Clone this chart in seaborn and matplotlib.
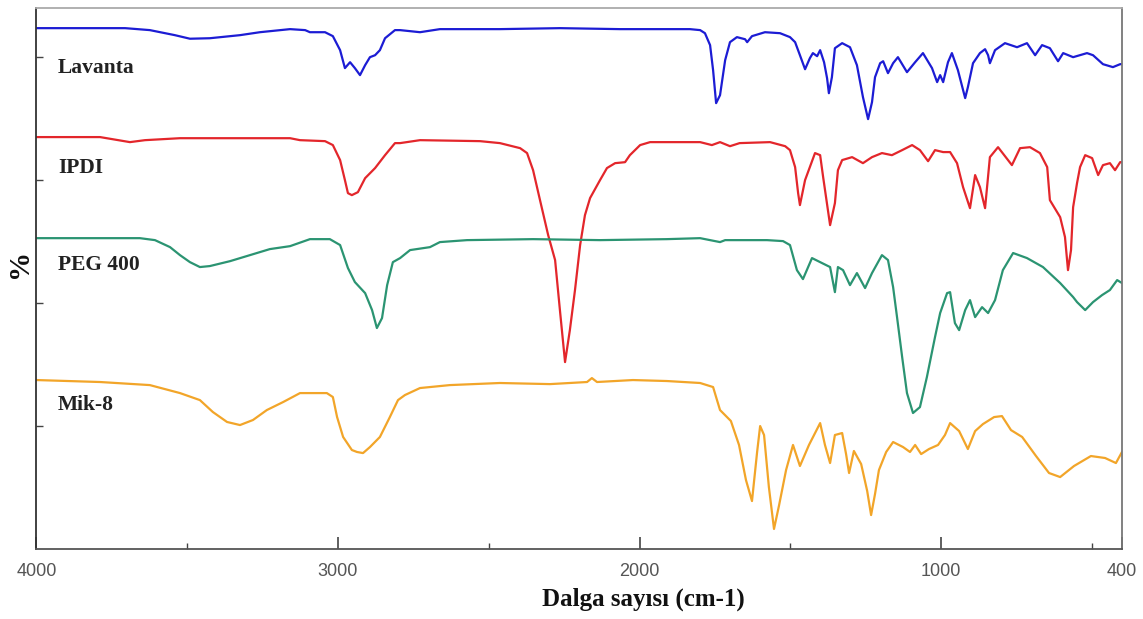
"""
FTIR spektrumları: Lavanta, IPDI, PEG 400 ve Mik-8.
Eğriler üst üste kaydırılmış halde, y ekseni keyfi birim (%).
"""

import numpy as np
import pandas as pd
import matplotlib.pyplot as plt
import seaborn as sns

# Dalga sayısı (cm-1) ve kaydırılmış geçirgenlik değerleri
lavanta_x = [4000, 3706, 3624, 3541, 3491, 3425, 3325, 3259, 3159, 3109, 3093, 3043,
             3017, 2993, 2977, 2960, 2944, 2927, 2910, 2894, 2877, 2861, 2844, 2811,
             2794, 2728, 2662, 2463, 2264, 2065, 1833, 1799, 1783, 1766, 1756, 1746,
             1733, 1716, 1700, 1677, 1650, 1643, 1627, 1584, 1534, 1501, 1484, 1468,
             1451, 1435, 1425, 1411, 1401, 1388, 1378, 1372, 1362, 1352, 1328, 1302,
             1279, 1259, 1242, 1229, 1219, 1202, 1192, 1176, 1159, 1143, 1113, 1086,
             1060, 1030, 1013, 1003, 993, 977, 964, 944, 920, 911, 894, 871, 854, 844,
             838, 821, 788, 748, 715, 688, 665, 639, 612, 595, 562, 516, 496, 463, 430,
             406, 400]
lavanta_y = [423.6, 423.6, 422.0, 417.9, 415.0, 415.4, 417.9, 420.3, 422.8, 422.0, 420.3, 420.3,
             417.1, 405.7, 391.1, 395.9, 391.1, 385.4, 393.5, 400.0, 401.6, 405.7, 415.4, 422.0,
             422.0, 420.3, 422.8, 422.8, 423.6, 422.8, 422.8, 422.0, 419.5, 409.8, 389.4, 362.6,
             369.1, 397.6, 412.2, 416.3, 414.6, 412.2, 417.1, 420.3, 419.5, 416.3, 412.2, 401.6,
             390.2, 399.2, 403.3, 400.8, 405.7, 395.9, 382.9, 370.7, 383.7, 407.3, 411.4, 408.1,
             393.5, 367.5, 349.6, 363.4, 383.7, 395.1, 396.7, 387.0, 395.1, 400.0, 387.8, 395.9,
             403.3, 391.1, 379.7, 385.4, 379.7, 395.9, 403.3, 389.4, 366.7, 375.6, 395.1, 403.3,
             406.5, 401.6, 395.1, 405.7, 411.4, 408.1, 411.4, 401.6, 409.8, 407.3, 396.7, 403.3,
             400.0, 403.3, 401.6, 394.3, 391.9, 394.3, 394.3]

ipdi_x = [4000, 3789, 3690, 3640, 3524, 3159, 3126, 3043, 3017, 2993, 2977, 2967, 2954,
          2934, 2910, 2877, 2844, 2811, 2794, 2728, 2529, 2463, 2396, 2373, 2353, 2330,
          2303, 2280, 2264, 2247, 2231, 2214, 2197, 2181, 2164, 2131, 2108, 2081, 2048,
          2032, 1998, 1965, 1799, 1760, 1733, 1700, 1668, 1567, 1517, 1501, 1484, 1474,
          1468, 1451, 1418, 1401, 1391, 1368, 1352, 1342, 1328, 1295, 1259, 1229, 1196,
          1163, 1129, 1096, 1070, 1043, 1020, 993, 970, 947, 927, 904, 887, 871, 854, 838,
          811, 765, 738, 705, 672, 648, 639, 605, 589, 579, 569, 562, 549, 539, 522, 499,
          479, 463, 440, 423, 406, 400]
ipdi_y = [335.0, 335.0, 330.9, 332.5, 334.1, 334.1, 332.5, 331.7, 328.5, 316.3, 300.0, 289.4, 287.8,
          290.2, 301.6, 309.8, 320.3, 330.1, 330.1, 332.5, 331.7, 330.1, 326.0, 322.0, 308.1, 283.7,
          255.3, 235.0, 194.3, 152.0, 178.0, 210.6, 247.2, 271.5, 285.4, 300.0, 309.8, 313.8, 314.6,
          320.3, 328.5, 330.9, 330.9, 328.5, 330.9, 327.6, 330.1, 330.9, 327.6, 324.4, 310.6, 289.4,
          279.7, 300.0, 322.0, 320.3, 302.4, 263.4, 281.3, 308.1, 316.3, 318.7, 313.8, 318.7, 322.0,
          320.3, 324.4, 328.5, 324.4, 315.4, 324.4, 322.8, 322.8, 313.8, 294.3, 277.2, 304.1, 294.3,
          277.2, 318.7, 326.8, 312.2, 326.0, 326.8, 322.0, 310.6, 283.7, 269.9, 253.7, 226.8, 243.1,
          278.0, 297.6, 310.6, 320.3, 317.9, 304.1, 312.2, 313.8, 308.1, 314.6, 314.6]

peg_x = [4000, 3657, 3607, 3557, 3524, 3491, 3458, 3425, 3358, 3292, 3226, 3159, 3093,
         3027, 2993, 2967, 2944, 2910, 2887, 2871, 2854, 2837, 2818, 2794, 2761, 2695,
         2662, 2572, 2353, 2131, 1909, 1799, 1733, 1716, 1577, 1524, 1501, 1478, 1458,
         1428, 1401, 1368, 1352, 1342, 1325, 1302, 1279, 1252, 1229, 1196, 1176, 1159,
         1146, 1129, 1113, 1093, 1070, 1047, 1020, 1003, 980, 970, 954, 940, 920, 904,
         887, 864, 844, 821, 795, 761, 715, 662, 605, 562, 549, 522, 496, 466, 440, 416, 400]
peg_y = [252.8, 252.8, 251.2, 245.5, 239.0, 233.3, 229.3, 230.1, 234.1, 239.0, 243.9, 246.3, 252.0,
         252.0, 247.2, 228.5, 217.1, 208.1, 194.3, 179.7, 187.8, 214.6, 233.3, 236.6, 243.1, 245.5,
         249.6, 251.2, 252.0, 251.2, 252.0, 252.8, 249.6, 251.2, 251.2, 250.4, 247.2, 226.8, 219.5,
         236.6, 233.3, 229.3, 208.9, 229.3, 226.8, 214.6, 224.4, 212.2, 224.4, 239.0, 235.0, 213.0,
         188.6, 156.1, 126.8, 110.6, 115.4, 139.8, 172.4, 191.9, 208.1, 208.9, 183.7, 178.0, 194.3,
         202.4, 188.6, 196.7, 191.9, 202.4, 226.8, 240.7, 236.6, 229.3, 216.3, 204.9, 200.8, 194.3,
         200.8, 206.5, 210.6, 218.7, 216.3]

mik_x = [4000, 3789, 3624, 3524, 3458, 3415, 3368, 3325, 3282, 3236, 3182, 3126, 3037,
         3017, 3003, 2983, 2954, 2937, 2917, 2894, 2861, 2828, 2801, 2778, 2728, 2629,
         2463, 2297, 2174, 2158, 2141, 2022, 1909, 1799, 1756, 1743, 1733, 1697, 1670,
         1647, 1627, 1610, 1600, 1587, 1571, 1554, 1537, 1514, 1491, 1468, 1438, 1401,
         1385, 1368, 1352, 1328, 1315, 1305, 1289, 1265, 1245, 1232, 1219, 1206, 1182,
         1159, 1126, 1103, 1086, 1066, 1040, 1010, 987, 970, 940, 911, 887, 861, 824, 798,
         768, 731, 685, 642, 605, 559, 503, 456, 420, 400]
mik_y = [137.4, 135.8, 133.3, 126.8, 121.1, 111.4, 103.3, 100.8, 104.9, 113.0, 119.5, 126.8, 126.8,
         123.6, 107.3, 91.1, 80.5, 78.9, 78.0, 82.9, 91.1, 107.3, 121.1, 125.2, 130.9, 133.3,
         135.0, 134.1, 135.8, 139.0, 135.8, 137.4, 136.6, 135.0, 131.7, 121.1, 113.0, 104.1, 84.6,
         56.1, 39.0, 78.9, 100.0, 92.7, 50.4, 16.3, 35.8, 64.2, 84.6, 67.5, 84.6, 102.4,
         84.6, 69.9, 92.7, 94.3, 77.2, 61.8, 79.7, 69.1, 47.2, 27.6, 44.7, 64.2, 78.9,
         87.0, 82.9, 78.9, 84.6, 77.2, 81.3, 84.6, 92.7, 102.4, 95.9, 81.3, 95.9, 101.6, 107.3, 108.1,
         96.7, 91.1, 75.6, 61.8, 58.5, 67.5, 75.6, 74.0, 69.9, 78.9]

numuneler = ['Lavanta', 'IPDI', 'PEG 400', 'Mik-8']
renkler = ['#1c1cd4', '#e3262b', '#2b9472', '#f2a529']
# etiketlerin taban çizgisi (y ekseni birimiyle)
etiket_y = [387, 306, 227, 113]

# Uzun formatta tablo
seriler = [(lavanta_x, lavanta_y), (ipdi_x, ipdi_y), (peg_x, peg_y), (mik_x, mik_y)]
df = pd.concat([
    pd.DataFrame({'Dalga': x, 'T': y, 'Numune': ad})
    for ad, (x, y) in zip(numuneler, seriler)
], ignore_index=True)

sns.set_style('ticks')

fig = plt.figure(figsize=(11.43, 6.19), dpi=100)
ax = fig.add_axes([0.0319, 0.1131, 0.9497, 0.8740])

sns.lineplot(data=df, x='Dalga', y='T', hue='Numune', hue_order=numuneler,
             palette=renkler, estimator=None, linewidth=1.6, legend=False, ax=ax)

ax.set_xlim(4000, 400)
ax.set_ylim(0, 440)

# Eğri isimleri
for ad, yy in zip(numuneler, etiket_y):
    ax.text(3929, yy, ad, fontfamily='Liberation Serif', fontweight='bold',
            fontsize=15.5, color='#222222', va='baseline')

# Eksenler
ax.set_xticks([4000, 3000, 2000, 1000, 400])
ax.set_xticklabels(['4000', '3000', '2000', '1000', '400'])
ax.set_xticks([3500, 2500, 1500, 500], minor=True)
ax.set_yticks([100, 200, 300, 400])
ax.set_yticklabels([])
ax.tick_params(axis='x', which='major', bottom=True, direction='in', length=8.5, width=1.2,
               color='#444444', pad=10, labelsize=13, labelcolor='#555555')
ax.tick_params(axis='x', which='minor', bottom=True, direction='in', length=4.3, width=1.0,
               color='#444444')
ax.tick_params(axis='y', left=True, direction='in', length=5, width=1.0, color='#444444')
for lbl in ax.get_xticklabels():
    lbl.set_fontfamily('Liberation Sans')

ax.spines['left'].set_color('#333333')
ax.spines['bottom'].set_color('#555555')
ax.spines['top'].set_color('#aaaaaa')
ax.spines['right'].set_color('#777777')
for s in ax.spines.values():
    s.set_visible(True)
    s.set_linewidth(1.3)

ax.set_xlabel('Dalga sayısı (cm-1)', fontfamily='Liberation Serif', fontweight='bold',
              fontsize=18, color='#111111')
ax.xaxis.set_label_coords(0.559, -0.072)
ax.set_ylabel('')
fig.text(19 / 1143, 1 - 263 / 619, '%', rotation=90, ha='center', va='center',
         fontfamily='Liberation Serif', fontweight='bold', fontsize=21, color='#111111')

fig.savefig('out.png', dpi=100)
